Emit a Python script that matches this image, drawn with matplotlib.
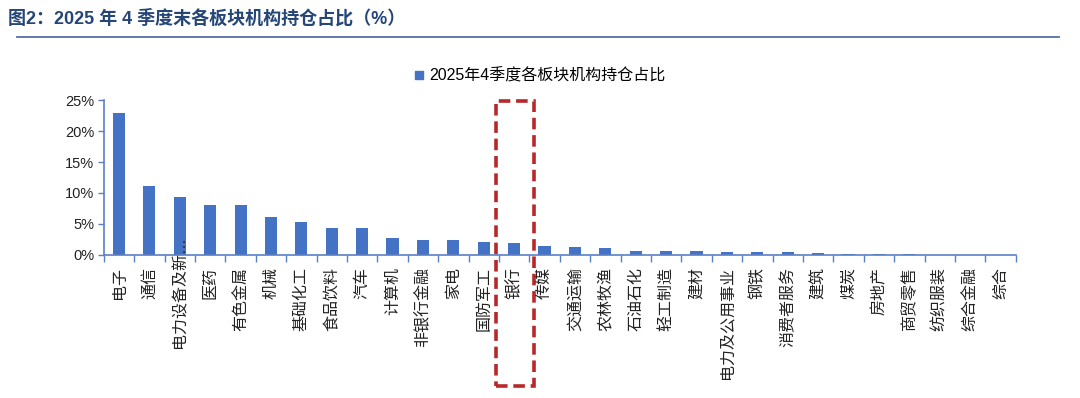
import matplotlib.pyplot as plt
from matplotlib.patches import Rectangle
from matplotlib.lines import Line2D

plt.rcParams['font.family'] = ['Liberation Sans', 'Noto Sans CJK SC', 'DejaVu Sans']

# 2025年4季度各板块机构持仓占比 (%)
sectors = ['电子', '通信', '电力设备及新能源', '医药', '有色金属', '机械', '基础化工',
           '食品饮料', '汽车', '计算机', '非银行金融', '家电', '国防军工', '银行',
           '传媒', '交通运输', '农林牧渔', '石油石化', '轻工制造', '建材',
           '电力及公用事业', '钢铁', '消费者服务', '建筑', '煤炭', '房地产',
           '商贸零售', '纺织服装', '综合金融', '综合']
share = [23.0, 11.1, 9.3, 8.1, 8.0, 6.15, 5.35, 4.35, 4.3, 2.75, 2.45, 2.35,
         2.1, 1.85, 1.35, 1.3, 1.13, 0.65, 0.54, 0.6, 0.49, 0.49, 0.38, 0.35,
         0.17, 0.16, 0.1, 0.03, 0.01, 0.01]
yticks = [0, 5, 10, 15, 20, 25]
highlight = '银行'
long_label = '电力设备及新…'

bar_color = '#4472C4'
axis_color = '#5B7FC7'

fig = plt.figure(figsize=(10.8, 3.98), dpi=100)
ax = fig.add_axes([0.0961, 0.360, 0.8444, 0.388])

x = list(range(len(sectors)))
ax.bar(x, share, width=0.4, color=bar_color)
ax.set_xlim(-0.5, len(sectors) - 0.5)
ax.set_ylim(0, 25)
ax.set_yticks(yticks)
ax.set_yticklabels([f'{v}%' for v in yticks], fontsize=10.5, color='#222222')

labels = [s if s != sectors[2] else '' for s in sectors]
ax.set_xticks(x)
ax.set_xticklabels(labels, rotation=90, va='top', ha='center', fontsize=11.5,
                   color='#222222')
ax.tick_params(axis='x', which='major', length=0, pad=9)
ax.set_xticks([i - 0.5 for i in range(len(sectors) + 1)], minor=True)
ax.tick_params(axis='x', which='minor', length=5, width=1, color=axis_color, direction='out')
ax.tick_params(axis='y', length=4, width=1, color=axis_color, pad=3)

# truncated long label sticks up into the plot
ax.text(2, -0.605, long_label, transform=ax.get_xaxis_transform(), rotation=90,
        ha='center', va='bottom', fontsize=11.5, color='#222222')

for s in ['top', 'right']:
    ax.spines[s].set_visible(False)
for s in ['left', 'bottom']:
    ax.spines[s].set_color(axis_color)
    ax.spines[s].set_linewidth(1.2)

# red dashed box around 银行
hi = sectors.index(highlight)
box = Rectangle((hi - 0.6, -0.85), 1.25, 1.845, transform=ax.get_xaxis_transform(),
                fill=False, edgecolor='#B8282A', linestyle=(0, (3.2, 1.6)), linewidth=2.6,
                clip_on=False)
ax.add_patch(box)

# legend
handle = Line2D([], [], marker='s', linestyle='none', color=bar_color, markersize=6)
fig.legend([handle], ['2025年4季度各板块机构持仓占比'], loc='center',
           bbox_to_anchor=(0.5, 0.81), frameon=False, fontsize=11.5,
           handlelength=0.6, handletextpad=0.3)

# title and rule
fig.text(0.007, 0.955, '图2：2025 年 4 季度末各板块机构持仓占比（%）', fontsize=13,
         fontweight='bold', color='#254677', va='center', ha='left')
fig.add_artist(Line2D([0.016, 0.981], [0.907, 0.907], transform=fig.transFigure,
                      color='#5570A0', linewidth=1.3))

fig.savefig('out.png', dpi=100)
